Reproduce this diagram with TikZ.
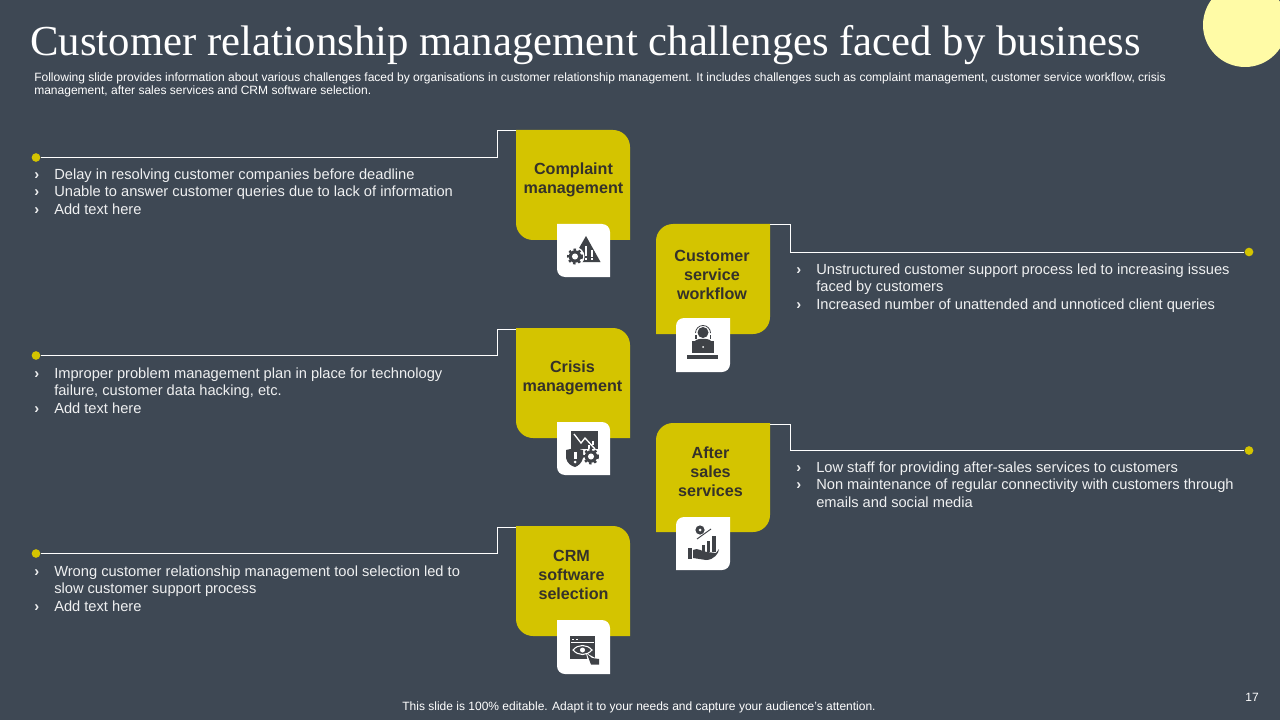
\documentclass[tikz,border=0pt]{standalone}
\usepackage{fontspec}
\setmainfont{Liberation Sans}
\newfontfamily\titlefont{Liberation Serif}
\definecolor{bgc}{HTML}{3E4854}
\definecolor{yel}{HTML}{D4C400}
\definecolor{pale}{HTML}{FFFBA6}
\definecolor{ink}{HTML}{35322A}
\definecolor{icn}{HTML}{3F4247}
\tikzset{
  boxlabel/.style={font=\bfseries\fontsize{12.1}{14.2}\selectfont,text=ink,align=center,inner sep=0pt},
  bullets/.style={font=\fontsize{11}{13.1}\selectfont,text=white!92!bgc,align=left,anchor=north west,inner sep=0pt},
  conn/.style={draw=white,line width=0.75pt},
  dotn/.style={circle,fill=yel,draw=none,minimum size=6.5pt,inner sep=0pt},
}
\newcommand{\bl}{\makebox[15pt][l]{\textbf{›}}}
\newcommand{\ind}{\hspace*{15pt}}
% shape A: rounded top right + bottom left ; shape B: rounded top left + bottom right (y axis points down)
\newcommand{\shapeA}[6]{\fill[#6] (#1,#2) -- (#3-#5,#2) arc[start angle=-90,end angle=0,radius=#5] -- (#3,#4) -- (#1+#5,#4) arc[start angle=90,end angle=180,radius=#5] -- cycle;}
\newcommand{\shapeB}[6]{\fill[#6] (#1+#5,#2) -- (#3,#2) -- (#3,#4-#5) arc[start angle=0,end angle=90,radius=#5] -- (#1,#4) -- (#1,#2+#5) arc[start angle=180,end angle=270,radius=#5] -- cycle;}
\newcommand{\gearic}[3]{%
  \fill[icn] (#1,#2) circle[radius=#3*0.78];
  \draw[icn,line width=#3*0.28*0.75pt,dash pattern=on #3*0.3*0.75pt off #3*0.34*0.75pt] (#1,#2) circle[radius=#3*0.86];
  \fill[white] (#1,#2) circle[radius=#3*0.38];}
\begin{document}
\begin{tikzpicture}[x=0.75pt,y=-0.75pt]
\useasboundingbox (0,0) rectangle (1280,720);
\fill[bgc] (0,0) rectangle (1280,720);
\begin{scope}
\clip (0,0) rectangle (1280,720);
\fill[pale] (1245,25) circle[radius=42];
\end{scope}
% title
\node[anchor=base west,inner sep=0pt,text=white,font=\titlefont\fontsize{32.05}{36}\selectfont] (title) at (30,55.5) {Customer relationship management challenges faced by business};
\node[anchor=north west,inner sep=0pt,text=white,align=left,font=\fontsize{9.02}{9.75}\selectfont] (intro) at (34,72.7) {Following slide provides information about various challenges faced by organisations in customer relationship management. It includes challenges such as complaint management, customer service workflow, crisis\\management, after sales services and CRM software selection.};
% boxes
\shapeA{516}{130}{630}{240}{17}{yel}
\shapeB{656}{224}{770}{334}{17}{yel}
\shapeA{516}{328}{630}{438}{17}{yel}
\shapeB{656}{423}{770}{532}{17}{yel}
\shapeA{516}{526}{630}{636}{17}{yel}
\node[boxlabel] (b1) at (573.5,180) {Complaint\\management};
\node[boxlabel] (b2) at (712,275) {Customer\\service\\workflow};
\node[boxlabel] (b3) at (572.5,378) {Crisis\\management};
\node[boxlabel] (b4) at (710.5,471.5) {After\\sales\\services};
\node[boxlabel] (b5) at (571.5,575) {CRM\\software\\\hspace*{3pt}selection};
% icon tiles
\shapeA{557}{224}{610}{277}{8}{white}
\shapeB{676}{318}{730}{372}{8}{white}
\shapeA{557}{422}{610}{475}{8}{white}
\shapeB{676}{517}{730}{570}{8}{white}
\shapeA{557}{620}{610}{674}{8}{white}
% connector ends
\coordinate (c1) at (516,131);
\coordinate (c2) at (770,225);
\coordinate (c3) at (516,329);
\coordinate (c4) at (770,424);
\coordinate (c5) at (516,527);
\node[dotn] (d1) at (36,157.5) {};
\node[dotn] (d2) at (1249,252) {};
\node[dotn] (d3) at (36,355.5) {};
\node[dotn] (d4) at (1249,450.5) {};
\node[dotn] (d5) at (36,553.5) {};
\draw[conn] (d1) -- (497,157.5) -- (497,131) -- (c1);
\draw[conn] (d3) -- (497,355.5) -- (497,329) -- (c3);
\draw[conn] (d5) -- (497,553.5) -- (497,527) -- (c5);
\draw[conn] (c2) -- (790,225) -- (790,252) -- (d2);
\draw[conn] (c4) -- (790,424) -- (790,450.5) -- (d4);
% bullets
\node[bullets] (t1) at (34,168.3) {\bl Delay in resolving customer companies before deadline\\\bl Unable to answer customer queries due to lack of information\\\bl Add text here};
\node[bullets] (t2) at (796,263.5) {\bl Unstructured customer support process led to increasing issues\\\ind faced by customers\\\bl Increased number of unattended and unnoticed client queries};
\node[bullets] (t3) at (34,367.5) {\bl Improper problem management plan in place for technology\\\ind failure, customer data hacking, etc.\\\bl Add text here};
\node[bullets] (t4) at (796,461.5) {\bl Low staff for providing after-sales services to customers\\\bl Non maintenance of regular connectivity with customers through\\\ind emails and social media};
\node[bullets] (t5) at (34,565.5) {\bl Wrong customer relationship management tool selection led to\\\ind slow customer support process\\\bl Add text here};
% footer
\node[inner sep=0pt,text=white,font=\fontsize{9}{11}\selectfont] (foot) at (639,707) {This slide is 100\% editable. Adapt it to your needs and capture your audience's attention.};
\node[inner sep=0pt,text=white,font=\fontsize{9}{11}\selectfont] (num) at (1252,697) {17};
% icon 1: warning + gear
\fill[icn,line join=round] (586,236) -- (600.5,262) -- (571,262) -- cycle;
\fill[white] (584.5,246) rectangle (587,256); \fill[white] (584.5,257.5) rectangle (587,260);
\fill[white] (590.5,250) rectangle (592.5,257); \fill[white] (590.5,258) rectangle (592.5,260);
\fill[white] (575,256.5) circle[radius=9.5];
\gearic{575}{256.5}{8}
% icon 2: agent with laptop
\fill[icn] (703,332.5) circle[radius=5.5];
\draw[icn,line width=0.6pt] (695.5,333) arc[start angle=180,end angle=360,radius=7.5];
\fill[icn] (695,335) rectangle (696.5,339); \fill[icn] (709.5,335) rectangle (711,339);
\fill[icn] (695,341) .. controls (697,338) and (709,338) .. (711,341) -- cycle;
\fill[icn] (692,341) rectangle (714,353);
\fill[white] (703,347) circle[radius=1];
\fill[icn] (687,355) rectangle (718,358.5);
% icon 3: chart, shield, gear
\fill[icn] (571,431) rectangle (598,449);
\draw[white,line width=1pt] (574,434) -- (581,443) -- (585,438) -- (595,449);
\fill[white] (588,445) rectangle (590,449); \fill[white] (592,441) rectangle (594,445);
\fill[icn] (566,450) -- (575,448) -- (583,450) -- (583,458) .. controls (582,463) and (578,466) .. (575,467) .. controls (571,466) and (567,463) .. (566,458) -- cycle;
\fill[white] (573.5,452) rectangle (576.5,459); \fill[white] (575,462) circle[radius=1.5];
\gearic{591}{456.5}{8}
% icon 4: hand, chart, coin
\fill[icn] (700,530) circle[radius=4.6];
\fill[white] (700,530) circle[radius=1.5];
\draw[icn,line width=0.7pt] (697,539) -- (711,529);
\fill[icn] (702,545) rectangle (705,552);
\fill[icn] (707,541) rectangle (710,552);
\fill[icn] (712,536) rectangle (716,552);
\fill[icn] (688,548) rectangle (692,559);
\fill[icn] (693,550) .. controls (698,547) and (702,552) .. (707,552) -- (716,553) -- (719,549) .. controls (719,553) and (714,560) .. (706,560) -- (693,558) -- cycle;
% icon 5: window, eye, hand
\fill[icn] (570,636) rectangle (595,659);
\fill[white] (572,638.5) rectangle (574,640); \fill[white] (575.5,638.5) rectangle (577.5,640);
\fill[white] (571,642) rectangle (594,642.6);
\draw[white,line width=0.8pt] (573,650) .. controls (578,644) and (587,644) .. (592,650) .. controls (587,656) and (578,656) .. (573,650) -- cycle;
\fill[white] (582.5,650) circle[radius=2.5];
\fill[white] (586,653) -- (599,660) -- (599,666) -- (589,666) -- cycle;
\fill[icn] (587,654) -- (592,658) -- (599,659) -- (599,664.5) -- (591,664.5) -- cycle;
\end{tikzpicture}
\end{document}
